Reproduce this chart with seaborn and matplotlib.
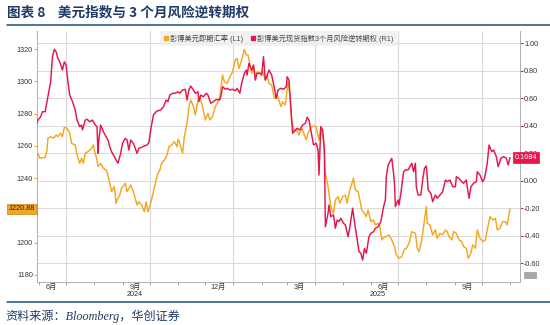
import numpy as np
import pandas as pd
import matplotlib
matplotlib.use("Agg")
import matplotlib.pyplot as plt
import matplotlib.transforms as mtransforms
from matplotlib.lines import Line2D
from matplotlib.patches import Rectangle
import seaborn as sns

# ---------------- data ----------------
START = pd.Timestamp("2024-05-30")

usd_days = [0, 1, 3, 9, 11, 12, 15, 18, 21, 23, 26, 28, 30, 33, 36, 38, 42, 44, 47, 49,
            51, 53, 56, 60, 62, 64, 66, 67, 70, 73, 76, 78, 80, 82, 85, 87, 88, 91, 93, 97,
            99, 103, 106, 110, 112, 115, 118, 120, 122, 125, 128, 131, 133, 135, 137, 140, 143, 145, 148, 151,
            154, 155, 157, 160, 162, 165, 167, 169, 172, 174, 177, 179, 182, 185, 188, 190, 193, 196, 199, 201,
            204, 206, 209, 212, 215, 218, 220, 222, 225, 228, 230, 232, 234, 236, 238, 240, 242, 245, 248, 251,
            253, 255, 258, 261, 264, 266, 268, 270, 273, 275, 276, 278, 280, 283, 286, 288, 291, 294, 296, 298,
            301, 304, 307, 310, 312, 315, 317, 320, 321, 323, 326, 328, 331, 333, 336, 339, 341, 343, 345, 348,
            350, 353, 355, 357, 360, 362, 364, 367, 370, 372, 375, 377, 379, 382, 384, 387, 390, 393, 395, 398,
            401, 404, 406, 409, 412, 416, 418, 420, 423, 425, 428, 429, 432, 435, 438, 440, 443, 446, 449, 451,
            453, 456, 458, 461, 464, 467, 469, 472, 474, 477, 479, 482, 484, 487, 490, 493, 495, 498, 501, 504,
            506, 509, 512, 515, 517, 520]
usd_spot = [1254.3, 1255.4, 1252.3, 1252.9, 1257.4, 1264.7, 1265.7, 1264.7, 1266.7, 1265.7,
            1267.8, 1265.7, 1271.5, 1270.9, 1267.8, 1261.6, 1260.5, 1254.3, 1249.2, 1252.3,
            1249.2, 1255.4, 1256.4, 1258.5, 1260.5, 1255.4, 1251.2, 1247.1, 1249.2, 1246.1,
            1245.0, 1241.9, 1236.8, 1231.6, 1234.7, 1224.4, 1226.4, 1229.5, 1233.7, 1236.8,
            1231.6, 1235.7, 1231.6, 1223.3, 1225.4, 1223.3, 1219.2, 1225.4, 1219.2, 1224.4,
            1231.6, 1238.8, 1243.0, 1245.0, 1249.2, 1251.2, 1254.3, 1259.5, 1260.5, 1262.6,
            1259.5, 1264.1, 1261.6, 1255.4, 1265.7, 1274.0, 1284.3, 1288.4, 1284.3, 1279.1,
            1288.4, 1290.4, 1284.3, 1276.0, 1280.2, 1276.0, 1278.1, 1284.3, 1287.3, 1290.4,
            1303.9, 1299.7, 1298.7, 1302.8, 1305.9, 1313.2, 1314.2, 1308.0, 1313.2, 1319.8,
            1316.3, 1316.3, 1311.1, 1304.9, 1310.1, 1302.8, 1305.9, 1304.9, 1305.9, 1300.8,
            1303.9, 1298.7, 1297.7, 1289.5, 1291.5, 1288.4, 1284.3, 1287.3, 1285.3, 1294.6,
            1299.7, 1291.5, 1275.0, 1268.8, 1269.8, 1266.7, 1270.9, 1266.7, 1263.6, 1267.8,
            1271.5, 1272.3, 1271.8, 1263.6, 1270.9, 1263.6, 1243.0, 1234.7, 1230.6, 1222.3,
            1218.2, 1226.4, 1228.5, 1224.4, 1228.5, 1229.5, 1224.4, 1230.6, 1234.7, 1239.9,
            1232.6, 1231.6, 1226.4, 1220.2, 1218.2, 1216.1, 1220.2, 1213.0, 1214.1, 1211.0,
            1212.0, 1209.9, 1201.7, 1203.7, 1203.7, 1204.8, 1201.7, 1197.5, 1192.4, 1190.3,
            1191.3, 1195.9, 1196.5, 1199.6, 1206.8, 1205.8, 1196.5, 1194.4, 1201.7, 1209.9,
            1222.3, 1212.0, 1211.0, 1204.8, 1207.9, 1202.7, 1205.8, 1204.8, 1207.9, 1206.8,
            1203.7, 1201.7, 1206.8, 1205.8, 1201.7, 1200.6, 1197.5, 1196.5, 1190.3, 1193.4,
            1198.6, 1196.5, 1207.9, 1202.7, 1200.6, 1201.7, 1207.9, 1216.1, 1214.1, 1215.1,
            1207.9, 1208.9, 1213.0, 1213.0, 1211.0, 1220.88]

rr_days = [0, 1, 4, 6, 9, 11, 14, 15, 17, 19, 21, 23, 25, 28, 30, 32, 34, 36, 39, 42,
           44, 47, 49, 50, 53, 55, 58, 61, 64, 66, 67, 68, 70, 73, 76, 78, 80, 82, 85, 88,
           89, 92, 94, 97, 99, 101, 103, 106, 110, 112, 115, 118, 121, 123, 125, 128, 131, 133, 136, 139,
           142, 144, 146, 149, 152, 155, 157, 160, 163, 165, 167, 169, 172, 174, 177, 178, 180, 183, 186, 188,
           191, 194, 196, 199, 201, 202, 204, 207, 209, 212, 215, 218, 220, 223, 225, 228, 230, 231, 233, 236,
           238, 240, 242, 245, 247, 249, 251, 252, 255, 258, 261, 263, 265, 268, 271, 274, 275, 277, 279, 281,
           284, 286, 289, 292, 295, 297, 299, 301, 304, 307, 309, 310, 312, 314, 316, 317, 320, 321, 323, 326,
           328, 330, 332, 334, 337, 339, 342, 344, 347, 349, 352, 354, 356, 358, 360, 362, 365, 367, 370, 372,
           375, 378, 381, 383, 384, 386, 388, 390, 392, 393, 394, 397, 398, 400, 403, 405, 408, 410, 412, 414,
           416, 417, 419, 422, 424, 426, 428, 429, 430, 433, 435, 438, 440, 443, 446, 449, 451, 454, 457, 460,
           461, 464, 467, 469, 472, 473, 475, 477, 480, 483, 484, 487, 490, 492, 495, 497, 500, 502, 505, 507,
           510, 513, 516, 518, 520]
rr_3m = [0.417, 0.441, 0.465, 0.502, 0.502, 0.575, 0.684, 0.720, 0.902, 0.956,
         0.938, 0.890, 0.865, 0.805, 0.865, 0.841, 0.720, 0.623, 0.575, 0.514,
         0.441, 0.393, 0.405, 0.369, 0.441, 0.447, 0.429, 0.441, 0.405, 0.393,
         0.199, 0.296, 0.405, 0.356, 0.320, 0.296, 0.247, 0.211, 0.175, 0.138,
         0.127, 0.199, 0.272, 0.308, 0.296, 0.223, 0.296, 0.272, 0.199, 0.236,
         0.243, 0.252, 0.260, 0.276, 0.369, 0.478, 0.502, 0.509, 0.514, 0.538,
         0.587, 0.575, 0.623, 0.636, 0.636, 0.647, 0.636, 0.660, 0.665, 0.587,
         0.660, 0.689, 0.660, 0.636, 0.647, 0.575, 0.623, 0.611, 0.636, 0.623,
         0.563, 0.575, 0.587, 0.592, 0.587, 0.611, 0.684, 0.665, 0.672, 0.660,
         0.665, 0.655, 0.672, 0.636, 0.708, 0.781, 0.805, 0.769, 0.854, 0.805,
         0.841, 0.732, 0.781, 0.781, 0.769, 0.902, 0.732, 0.745, 0.805, 0.769,
         0.672, 0.599, 0.660, 0.672, 0.665, 0.684, 0.756, 0.732, 0.538, 0.345,
         0.369, 0.381, 0.369, 0.405, 0.417, 0.461, 0.441, 0.369, 0.260, 0.272,
         0.223, 0.041, 0.393, 0.369, 0.223, -0.335, -0.237, -0.177, -0.262, -0.249,
         -0.346, -0.286, -0.298, -0.273, -0.310, -0.322, -0.407, -0.335, -0.200, -0.298,
         -0.431, -0.516, -0.528, -0.577, -0.492, -0.528, -0.407, -0.383, -0.371, -0.346,
         -0.335, -0.298, -0.189, -0.140, 0.029, 0.114, 0.138, 0.163, 0.054, -0.019,
         -0.189, -0.140, -0.177, -0.092, 0.065, 0.078, 0.078, 0.102, 0.127, 0.065,
         0.127, -0.044, -0.104, -0.104, 0.005, 0.090, 0.107, 0.029, -0.068, -0.092,
         -0.153, -0.104, -0.128, -0.104, -0.080, 0.005, -0.007, 0.005, -0.044, -0.044,
         0.029, 0.017, -0.007, -0.019, 0.005, -0.044, -0.128, -0.044, -0.019, -0.007,
         0.065, 0.041, -0.007, 0.017, 0.127, 0.260, 0.211, 0.223, 0.175, 0.102,
         0.163, 0.175, 0.163, 0.114, 0.1684]

left_ticks = [1180, 1200, 1220, 1240, 1260, 1280, 1300, 1320]
left_tick_labels = ["1180", "1200", "", "1240", "1260", "1280", "1300", "1320"]
right_ticks = [-0.60, -0.40, -0.20, 0.00, 0.20, 0.40, 0.60, 0.80, 1.00]
month_dates = ["2024-06-15", "2024-09-15", "2024-12-15", "2025-03-15", "2025-06-15", "2025-09-15"]
month_labels = ["6月", "9月", "12月", "3月", "6月", "9月"]
year_dates = ["2024-09-15", "2025-06-09"]
year_labels = ["2024", "2025"]
series_names = ["彭博美元即期汇率 (L1)", "彭博美元现货指数3个月风险逆转期权 (R1)"]
title_text = "图表 8    美元指数与 3 个月风险逆转期权"
source_text = "资料来源：Bloomberg，华创证券"
last_usd_label = "1220.88"
last_rr_label = "0.1684"

# ---------------- styling ----------------
ORANGE = "#F5A623"
RED = "#E3174B"
NAVY = "#1F3A68"
GRID = "#DADADA"
TXT = "#333333"

sns.set_style("white")
plt.rcParams["font.family"] = ["Liberation Sans", "Noto Sans CJK SC", "DejaVu Sans"]
plt.rcParams["axes.unicode_minus"] = False

usd_df = pd.DataFrame({"date": START + pd.to_timedelta(usd_days, unit="D"), "value": usd_spot})
rr_df = pd.DataFrame({"date": START + pd.to_timedelta(rr_days, unit="D"), "value": rr_3m})

fig = plt.figure(figsize=(5.5, 3.25), dpi=100)
pos = [37 / 550, 1 - 282 / 325, 483 / 550, 251 / 325]

xmin = START
xmax = START + pd.Timedelta(days=531)
left_lim = (1175.6, 1331.2)
right_lim = (-0.737, 1.089)

# background grid axes
axg = fig.add_axes(pos)
axg.set_zorder(0)
axg.set_xlim(xmin, xmax)
axg.set_ylim(*right_lim)
axg.set_yticks(right_ticks)
axg.grid(axis="y", color=GRID, lw=0.7)
axg.grid(axis="x", visible=False)
for q in pd.date_range("2024-07-01", "2025-10-01", freq="QS"):
    axg.axvline(q, color=GRID, lw=0.9)
axg.tick_params(left=False, labelleft=False, bottom=False, labelbottom=False)
for s in axg.spines.values():
    s.set_visible(False)

# left axis: USD spot
ax = fig.add_axes(pos)
ax.set_zorder(1)
ax.patch.set_visible(False)
sns.lineplot(data=usd_df, x="date", y="value", ax=ax, color=ORANGE, lw=1.05,
             estimator=None, sort=False)
ax.set_xlim(xmin, xmax)
ax.set_ylim(*left_lim)
ax.set_yticks(left_ticks)
ax.set_yticklabels(left_tick_labels)
ax.set_xlabel("")
ax.set_ylabel("")
ax.tick_params(axis="y", which="major", left=True, length=2, width=0.8, color=ORANGE,
               labelsize=5.2, labelcolor=TXT, pad=1)

ax.set_xticks(pd.to_datetime(month_dates))
ax.set_xticklabels(month_labels)
ax.set_xticks(pd.date_range("2024-06-01", "2025-11-01", freq="MS"), minor=True)
ax.tick_params(axis="x", which="major", length=0, labelsize=5.2, labelcolor=TXT, pad=1.2)
ax.tick_params(axis="x", which="minor", length=2.5, width=0.6, color="#999999", bottom=True)
ax.grid(False)
for name, s in ax.spines.items():
    if name in ("top", "right"):
        s.set_visible(False)
    else:
        s.set_color("#B0B0B0")
        s.set_linewidth(0.7)

trans_year = mtransforms.blended_transform_factory(ax.transData, ax.transAxes)
for d, lab in zip(year_dates, year_labels):
    ax.text(pd.Timestamp(d), -0.05, lab, transform=trans_year,
            ha="center", va="center", fontsize=5.2, color=TXT)

# right axis: risk reversal
ax2 = ax.twinx()
ax2.set_zorder(2)
ax2.patch.set_visible(False)
sns.lineplot(data=rr_df, x="date", y="value", ax=ax2, color=RED, lw=1.05,
             estimator=None, sort=False)
ax2.set_xlim(xmin, xmax)
ax2.set_ylim(*right_lim)
ax2.set_yticks(right_ticks)
ax2.set_yticklabels([f"{t:.2f}" for t in right_ticks])
ax2.set_ylabel("")
ax2.grid(False)
ax2.tick_params(axis="y", right=True, length=2, width=0.8, color=RED,
                labelsize=5.2, labelcolor=TXT, pad=1)
for name, s in ax2.spines.items():
    if name == "right":
        s.set_color("#B0B0B0")
        s.set_linewidth(0.7)
    else:
        s.set_visible(False)

# legend
handles = [Line2D([], [], ls="none", marker="s", ms=2.8, color=ORANGE),
           Line2D([], [], ls="none", marker="s", ms=2.8, color=RED)]
leg = ax2.legend(handles, series_names, loc="upper center", bbox_to_anchor=(0.5, 1.0),
                 ncol=2, fontsize=5.2, frameon=True, fancybox=False, borderaxespad=0.0,
                 handlelength=0.6, handletextpad=0.3, columnspacing=1.0,
                 borderpad=0.45, labelcolor="#444444")
leg.get_frame().set_facecolor("#EFEFEF")
leg.get_frame().set_edgecolor("#EFEFEF")
leg.get_frame().set_linewidth(0)

# last value labels
tl = mtransforms.blended_transform_factory(ax.transAxes, ax.transData)
ax.text(-0.004, usd_spot[-1], last_usd_label, transform=tl, ha="right", va="center",
        fontsize=5.2, color="#222222", clip_on=False, zorder=10,
        bbox=dict(boxstyle="square,pad=0.25", fc="#F2A52B", ec="#C98214", lw=0.5))
tr = mtransforms.blended_transform_factory(ax2.transAxes, ax2.transData)
ax2.text(0.99, rr_3m[-1], last_rr_label, transform=tr, ha="left", va="center",
         fontsize=5.2, color="white", clip_on=False, zorder=10,
         bbox=dict(boxstyle="square,pad=0.25", fc=RED, ec=RED, lw=0.5))

# small icon under right axis
fig.patches.append(Rectangle((524 / 550, 1 - 278 / 325), 12 / 550, 6 / 325,
                             transform=fig.transFigure, fc="#A8A8A8", ec="#8C8C8C", lw=0.4))

# title, rules and source
fig.text(7 / 550, 1 - 12 / 325, title_text, ha="left", va="center", fontsize=9.8,
         fontweight="bold", color=NAVY, family=["Noto Sans CJK SC", "DejaVu Sans"])
fig.add_artist(Line2D([7 / 550, 1.0], [1 - 25 / 325, 1 - 25 / 325], transform=fig.transFigure,
                      color="#1F4E79", lw=1.1))
fig.add_artist(Line2D([7 / 550, 1.0], [1 - 302 / 325, 1 - 302 / 325], transform=fig.transFigure,
                      color="#1F4E79", lw=1.1))
fig.text(5 / 550, 1 - 316 / 325, source_text, ha="left", va="center", fontsize=8.7,
         style="italic", color=NAVY, family=["Liberation Serif", "Noto Sans CJK SC", "DejaVu Sans"])

fig.savefig("out.png", dpi=100)
